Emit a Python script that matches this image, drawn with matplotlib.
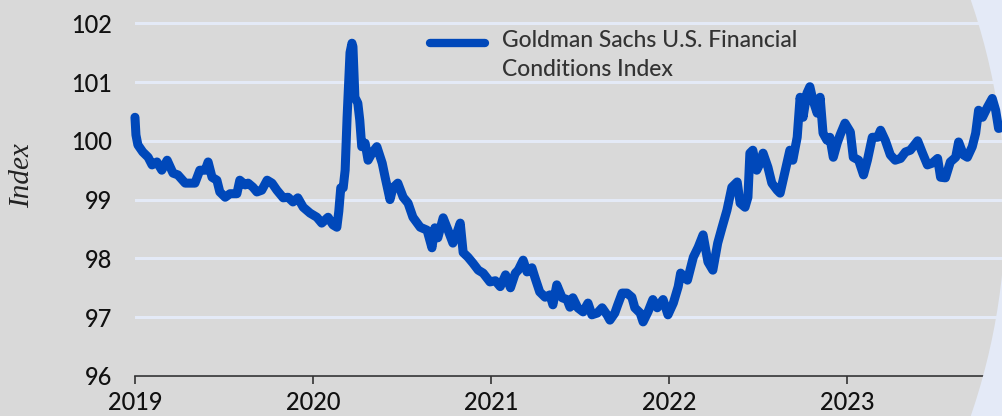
import matplotlib
matplotlib.use("Agg")
import matplotlib.pyplot as plt
import matplotlib.dates as mdates
from matplotlib.patches import Circle
from matplotlib.lines import Line2D
import pandas as pd

# Goldman Sachs U.S. Financial Conditions Index
dates = [
    "2019-01-01", "2019-01-03", "2019-01-07", "2019-01-17", "2019-01-28", "2019-02-05",
    "2019-02-15", "2019-02-25", "2019-03-08", "2019-03-20", "2019-03-30", "2019-04-14",
    "2019-04-24", "2019-05-04", "2019-05-14", "2019-05-25", "2019-05-31", "2019-06-08",
    "2019-06-18", "2019-06-24", "2019-07-05", "2019-07-15", "2019-07-29", "2019-08-04",
    "2019-08-15", "2019-08-21", "2019-08-31", "2019-09-08", "2019-09-18", "2019-09-29",
    "2019-10-09", "2019-10-19", "2019-11-01", "2019-11-11", "2019-11-21", "2019-12-01",
    "2019-12-12", "2019-12-26",
    "2020-01-09", "2020-01-19", "2020-02-01", "2020-02-11", "2020-02-19", "2020-02-23",
    "2020-02-27", "2020-03-03", "2020-03-07", "2020-03-11", "2020-03-17", "2020-03-21",
    "2020-03-23", "2020-03-27", "2020-04-02", "2020-04-06", "2020-04-10", "2020-04-17",
    "2020-04-23", "2020-05-01", "2020-05-11", "2020-05-22", "2020-05-28", "2020-06-07",
    "2020-06-13", "2020-06-23", "2020-07-04", "2020-07-14", "2020-07-24", "2020-08-08",
    "2020-08-22", "2020-09-01", "2020-09-07", "2020-09-13", "2020-09-24", "2020-10-04",
    "2020-10-14", "2020-10-22", "2020-10-29", "2020-11-04", "2020-11-14", "2020-11-24",
    "2020-12-05", "2020-12-15", "2020-12-29",
    "2021-01-09", "2021-01-19", "2021-01-30", "2021-02-09", "2021-02-19", "2021-02-25",
    "2021-03-07", "2021-03-15", "2021-03-25", "2021-03-31", "2021-04-10", "2021-04-21",
    "2021-05-01", "2021-05-07", "2021-05-15", "2021-05-26", "2021-06-05", "2021-06-11",
    "2021-06-17", "2021-06-27", "2021-07-08", "2021-07-18", "2021-07-26", "2021-08-06",
    "2021-08-16", "2021-08-26", "2021-09-01", "2021-09-11", "2021-09-17", "2021-09-26",
    "2021-10-06", "2021-10-16", "2021-10-22", "2021-11-02", "2021-11-08", "2021-11-18",
    "2021-11-28", "2021-12-07", "2021-12-19", "2021-12-29",
    "2022-01-09", "2022-01-19", "2022-01-24", "2022-02-07", "2022-02-19", "2022-03-01",
    "2022-03-11", "2022-03-21", "2022-03-31", "2022-04-10", "2022-04-19", "2022-04-29",
    "2022-05-09", "2022-05-20", "2022-05-26", "2022-06-05", "2022-06-11", "2022-06-15",
    "2022-06-21", "2022-06-29", "2022-07-06", "2022-07-12", "2022-07-22", "2022-07-30",
    "2022-08-10", "2022-08-16", "2022-08-22", "2022-08-30", "2022-09-05", "2022-09-11",
    "2022-09-20", "2022-09-26", "2022-10-02", "2022-10-10", "2022-10-16", "2022-10-22",
    "2022-10-31", "2022-11-06", "2022-11-12", "2022-11-20", "2022-11-26", "2022-12-03",
    "2022-12-11", "2022-12-17", "2022-12-27",
    "2023-01-07", "2023-01-13", "2023-01-24", "2023-02-03", "2023-02-11", "2023-02-21",
    "2023-03-04", "2023-03-10", "2023-03-20", "2023-03-30", "2023-04-09", "2023-04-20",
    "2023-04-30", "2023-05-10", "2023-05-25", "2023-06-04", "2023-06-14", "2023-06-24",
    "2023-07-05", "2023-07-11", "2023-07-21", "2023-07-31", "2023-08-11", "2023-08-17",
    "2023-08-27", "2023-09-04", "2023-09-14", "2023-09-21", "2023-09-27", "2023-10-05",
    "2023-10-15", "2023-10-25", "2023-11-01", "2023-11-07", "2023-11-15",
]
values = [
    100.4, 100.1, 99.93, 99.81, 99.72, 99.59,
    99.64, 99.5, 99.67, 99.45, 99.42, 99.28,
    99.28, 99.28, 99.5, 99.5, 99.64, 99.38,
    99.33, 99.13, 99.04, 99.1, 99.1, 99.33,
    99.25, 99.28, 99.21, 99.13, 99.16, 99.33,
    99.28, 99.16, 99.03, 99.04, 98.96, 99.03,
    98.87, 98.77,
    98.7, 98.6, 98.7, 98.57, 98.53, 98.8,
    99.2, 99.2, 99.5, 100.4, 101.5, 101.66,
    101.6, 100.74, 100.64, 100.35, 99.9, 99.96,
    99.67, 99.79, 99.9, 99.62, 99.38, 99.0,
    99.2, 99.28, 99.04, 98.94, 98.7, 98.53,
    98.48, 98.18, 98.52, 98.35, 98.69, 98.48,
    98.26, 98.43, 98.6, 98.1, 98.02, 97.92,
    97.8, 97.75, 97.6,
    97.62, 97.52, 97.72, 97.5, 97.75, 97.8,
    97.97, 97.77, 97.84, 97.68, 97.43, 97.34,
    97.38, 97.21, 97.55, 97.33, 97.3, 97.17,
    97.33, 97.16, 97.09, 97.24, 97.04, 97.07,
    97.16, 97.04, 96.95, 97.07, 97.21, 97.41,
    97.41, 97.34, 97.16, 97.07, 96.92, 97.09,
    97.3, 97.16, 97.3, 97.04,
    97.24, 97.52, 97.75, 97.63, 98.02, 98.19,
    98.4, 97.94, 97.8, 98.26, 98.53, 98.82,
    99.21, 99.3, 98.94, 98.87, 99.04, 99.79,
    99.84, 99.5, 99.62, 99.79, 99.55, 99.28,
    99.16, 99.11, 99.33, 99.62, 99.84, 99.67,
    100.06, 100.74, 100.4, 100.81, 100.92, 100.7,
    100.47, 100.74, 100.13, 100.01, 100.06, 99.72,
    99.96, 100.1, 100.3,
    100.15, 99.72, 99.67, 99.42, 99.67, 100.06,
    100.06, 100.18, 100.0, 99.76, 99.67, 99.7,
    99.81, 99.84, 100.0, 99.79, 99.59, 99.62,
    99.7, 99.38, 99.37, 99.64, 99.72, 99.98,
    99.76, 99.72, 99.9, 100.13, 100.52, 100.4,
    100.57, 100.72, 100.52, 100.21, 100.23,
]
year_ticks = ["2019-01-01", "2020-01-01", "2021-01-01", "2022-01-01", "2023-01-01"]
y_ticks = [96, 97, 98, 99, 100, 101, 102]
series_label = "Goldman Sachs U.S. Financial\nConditions Index"

GRAY = "#d9d9d9"
LIGHT = "#e4eaf7"
BLUE = "#0048ba"

x = pd.to_datetime(dates)

fig = plt.figure(figsize=(10.02, 4.16), dpi=100, facecolor=LIGHT)
# big gray disc behind the plot, light band shows on the right edge
disc = Circle((3.655, 2.08), 6.40, transform=fig.dpi_scale_trans,
              facecolor=GRAY, edgecolor="none", zorder=-5)
fig.add_artist(disc)

ax = fig.add_axes([0.1347, 0.0962, 0.8653, 0.8904])
ax.set_facecolor("none")

ax.plot(x, values, color=BLUE, lw=6.5, solid_joinstyle="round",
        solid_capstyle="round", clip_on=False, zorder=5)

ax.set_xlim(pd.Timestamp("2019-01-01"), pd.Timestamp("2023-11-14"))
ax.set_ylim(96, 102.3)
ax.set_yticks(y_ticks)
ax.set_xticks(pd.to_datetime(year_ticks))
ax.xaxis.set_major_formatter(mdates.DateFormatter("%Y"))

for s in ["top", "right", "left"]:
    ax.spines[s].set_visible(False)
ax.spines["bottom"].set_color("#333333")
ax.spines["bottom"].set_linewidth(1.2)
ax.spines["bottom"].set_clip_path(disc)

ax.grid(axis="y", color=LIGHT, lw=2.2, zorder=1)
ax.set_axisbelow(True)

ax.tick_params(axis="y", length=0, pad=16.5, labelsize=17, labelcolor="#111111")
ax.tick_params(axis="x", length=6, width=1.2, color="#333333", pad=5,
               labelsize=17, labelcolor="#111111")
for lab in ax.get_xticklabels() + ax.get_yticklabels():
    lab.set_fontfamily("Lato")
    lab.set_fontweight("medium")

# y label
fig.text(22 / 1002, 1 - 176 / 416, "Index", rotation=90, ha="center", va="center",
         fontsize=21, fontstyle="italic", family="Liberation Serif", color="#222222")

# legend key and label
fig.add_artist(Line2D([430 / 1002, 485 / 1002], [1 - 43 / 416, 1 - 43 / 416],
                      transform=fig.transFigure, color=BLUE, lw=6,
                      solid_capstyle="round"))
fig.text(502 / 1002, 1 - 30 / 416, series_label, ha="left", va="top",
         fontsize=16.5, family="Lato", fontweight="medium", color="#333333",
         linespacing=1.45)

fig.savefig("out.png", dpi=100, facecolor=fig.get_facecolor())
